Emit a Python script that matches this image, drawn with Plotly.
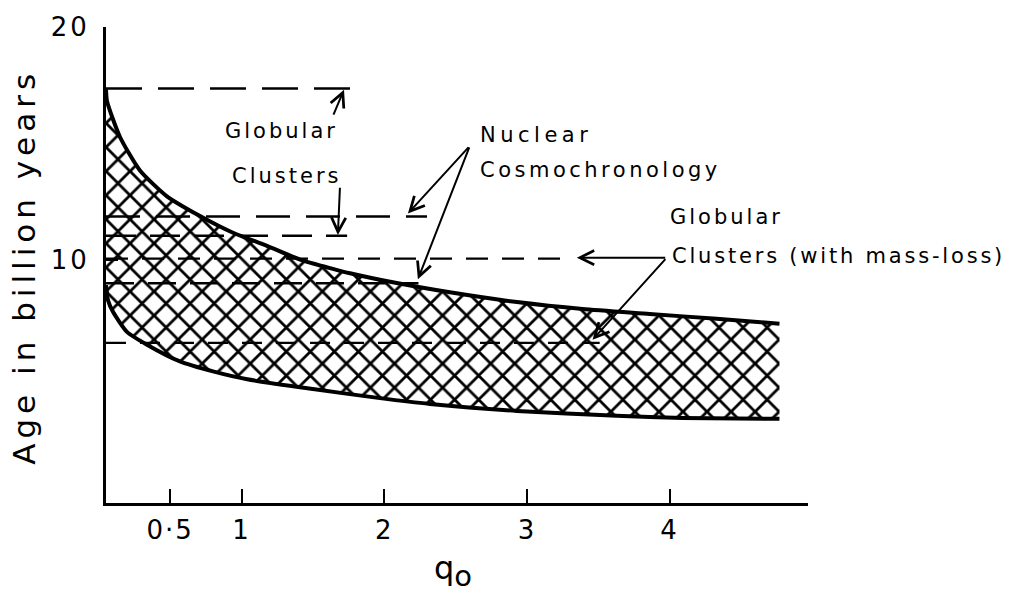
import plotly.graph_objects as go

# ---- data ----
upper_q = [0.05, 0.057, 0.148, 0.288, 0.477, 0.709, 0.94, 1.178, 1.41, 1.64, 1.76, 2.06, 2.46, 2.93, 3.39, 3.86, 4.33, 4.77]
upper_age = [17.32, 16.81, 15.27, 13.83, 12.72, 11.87, 11.15, 10.59, 10.0, 9.6, 9.41, 9.02, 8.59, 8.17, 7.87, 7.66, 7.45, 7.24]

lower_q = [0.05, 0.064, 0.1, 0.197, 0.337, 0.568, 0.80, 1.04, 1.50, 1.97, 2.32, 2.93, 3.63, 4.09, 4.77]
lower_age = [8.9, 8.25, 7.74, 6.89, 6.34, 5.62, 5.19, 4.85, 4.43, 4.04, 3.79, 3.49, 3.28, 3.19, 3.15]

dash_levels = [17.36, 11.85, 11.02, 10.04, 8.98, 6.42]
dash_ends = [1.78, 2.30, 1.74, 3.30, 2.24, 3.51]
dash_styles = ["36px,16px", "34px,16px", "30px,14px", "22px,14px", "28px,14px", "20px,14px"]
dash_widths = [2.5, 2.5, 2.5, 2.2, 2.5, 2.2]

x_tickvals = [0.5, 1, 2, 3, 4]
x_ticktext = ["0·5", "1", "2", "3", "4"]
y_tickvals = [10, 20]
y_ticktext = ["10", "20"]

# arrows: (tip_q, tip_age, tail_q, tail_age)
arrows = [
    (1.718, 17.30, 1.64, 16.17),
    (1.675, 11.06, 1.69, 13.15),
    (2.166, 11.98, 2.60, 14.89),
    (2.236, 9.15, 2.60, 14.89),
    (3.35, 10.08, 3.98, 10.08),
    (3.46, 6.55, 3.98, 10.08),
]

FONT = "DejaVu Sans"


def spaced(t, ls):
    return '<span style="letter-spacing:%spx">%s</span>' % (ls, t)


fig = go.Figure()

# hatched band
fig.add_trace(go.Scatter(
    x=upper_q + lower_q[::-1],
    y=upper_age + lower_age[::-1],
    fill="toself",
    mode="lines",
    line=dict(width=0, color="rgba(0,0,0,0)"),
    fillcolor="white",
    fillpattern=dict(shape="x", size=17, solidity=0.3, fgcolor="black",
                     fgopacity=1, bgcolor="white"),
    hoverinfo="skip",
    showlegend=False,
))

# dashed reference levels
for lvl, end, ds, w in zip(dash_levels, dash_ends, dash_styles, dash_widths):
    fig.add_trace(go.Scatter(
        x=[upper_q[0], end], y=[lvl, lvl], mode="lines",
        line=dict(color="black", width=w, dash=ds),
        showlegend=False, hoverinfo="skip",
    ))

# boundary curves
for xs, ys in [(upper_q, upper_age), (lower_q, lower_age)]:
    fig.add_trace(go.Scatter(
        x=xs, y=ys, mode="lines",
        line=dict(color="black", width=4, shape="spline", smoothing=0.6),
        showlegend=False, hoverinfo="skip",
    ))

annotations = []
for tq, ta, sq, sa in arrows:
    annotations.append(dict(
        x=tq, y=ta, ax=sq, ay=sa, xref="x", yref="y", axref="x", ayref="y",
        text="", showarrow=True, arrowhead=5, arrowsize=1.4, arrowwidth=2,
        arrowcolor="black",
    ))

labels = [
    ("Globular", 0.1667, 0.7817, 3),
    ("Clusters", 0.1766, 0.688, 3),
    ("Nuclear", 0.5299, 0.7734, 4.5),
    ("Cosmochronology", 0.5299, 0.7006, 3.5),
    ("Globular", 0.8006, 0.6008, 3),
    ("Clusters (with mass-loss)", 0.8034, 0.5198, 2.8),
]
for t, px, py, ls in labels:
    annotations.append(dict(
        x=px, y=py, xref="paper", yref="paper", xanchor="left", yanchor="middle",
        text=spaced(t, ls), showarrow=False, font=dict(family=FONT, size=21, color="black"),
    ))

# axis titles
annotations.append(dict(
    x=-0.117, y=0.496, xref="paper", yref="paper", xanchor="center", yanchor="middle",
    text=spaced("Age in billion years", 5), textangle=-90, showarrow=False,
    font=dict(family=FONT, size=31, color="black"),
))
annotations.append(dict(
    x=0.494, y=-0.143, xref="paper", yref="paper", xanchor="center", yanchor="middle",
    text='q<sub><span style="font-size:29px">o</span></sub>', showarrow=False,
    font=dict(family=FONT, size=32, color="black"),
))

fig.update_layout(
    width=1015, height=601,
    margin=dict(l=106, r=207, t=22, b=98),
    paper_bgcolor="white", plot_bgcolor="white",
    showlegend=False,
    annotations=annotations,
    xaxis=dict(
        range=[0.05, 4.97], showline=True, linewidth=3, linecolor="black",
        ticks="inside", ticklen=14, tickwidth=2, tickcolor="black",
        tickvals=x_tickvals, ticktext=[spaced(t, 2) for t in x_ticktext],
        tickfont=dict(family=FONT, size=26, color="black"),
        showgrid=False, zeroline=False, ticklabelstandoff=2,
    ),
    yaxis=dict(
        range=[-0.47, 20], showline=True, linewidth=3, linecolor="black",
        ticks="inside", ticklen=12, tickwidth=2, tickcolor="black",
        tickvals=y_tickvals, ticktext=[spaced(t, 3) for t in y_ticktext],
        tickfont=dict(family=FONT, size=26, color="black"),
        showgrid=False, zeroline=False, ticklabelstandoff=8,
    ),
)

fig.write_html("out.html")
